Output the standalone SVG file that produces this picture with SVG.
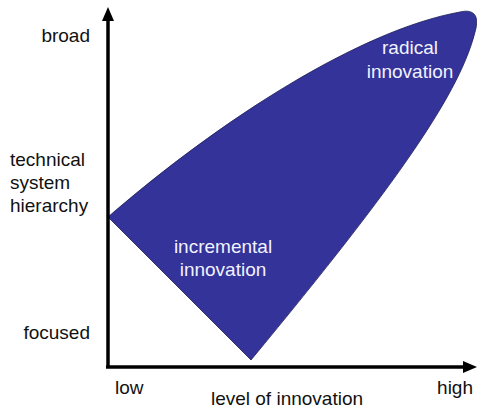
<svg xmlns="http://www.w3.org/2000/svg" width="477" height="410" viewBox="0 0 477 410">
<style>
text{font-family:"Liberation Sans",Arial,sans-serif;font-size:19px;fill:#111}
.w{fill:#f2f2ff}
.ax{stroke:#000;stroke-width:3.5;fill:none}
</style>
<rect width="477" height="410" fill="#fff"/>
<g id="region">
<path d="M108,217 C220,120 360,30 460,12 C472,9 479,14 476,28 C462,90 400,180 251,360 Z" fill="#333399" stroke="#1c1c55" stroke-width="0.8"/>
<text class="w" x="410" y="54" text-anchor="middle">radical</text>
<text class="w" x="410" y="78" text-anchor="middle">innovation</text>
<text class="w" x="223" y="253" text-anchor="middle">incremental</text>
<text class="w" x="223" y="276" text-anchor="middle">innovation</text>
</g>
<g id="axes">
<line class="ax" x1="108" y1="367" x2="108" y2="18"/>
<polygon points="108,7 102,21 114,21" fill="#000"/>
<line class="ax" x1="106" y1="367" x2="466" y2="367"/>
<polygon points="477,367 463,361 463,373" fill="#000"/>
</g>
<g id="labels">
<text x="90" y="42" text-anchor="end">broad</text>
<text x="10" y="166">technical</text>
<text x="10" y="189">system</text>
<text x="10" y="212">hierarchy</text>
<text x="90" y="339" text-anchor="end">focused</text>
<text x="115" y="394">low</text>
<text x="473" y="394" text-anchor="end">high</text>
<text x="287" y="405" text-anchor="middle">level of innovation</text>
</g>
</svg>
